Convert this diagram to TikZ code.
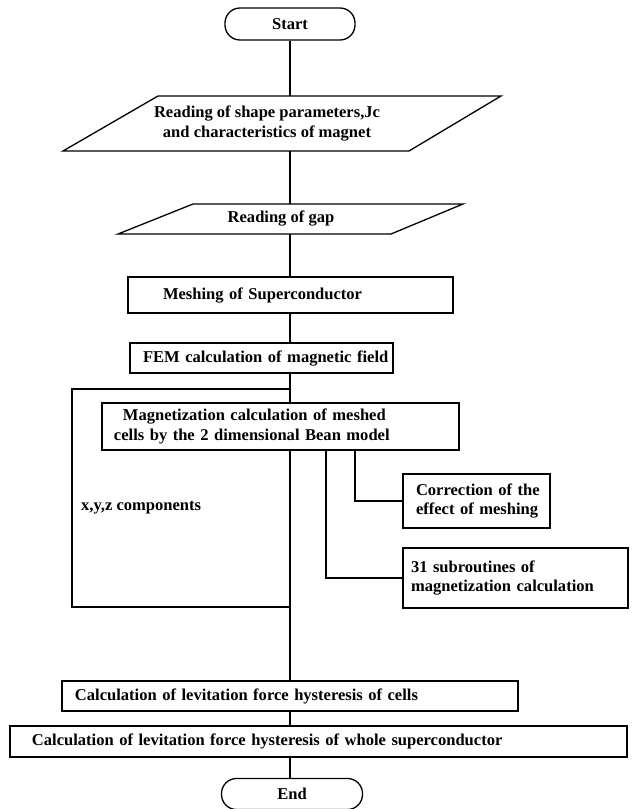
\documentclass[tikz,border=0pt]{standalone}
\usepackage{fontspec}
\setmainfont{Liberation Serif}

\begin{document}
\begin{tikzpicture}[x=1bp,y=-1bp, every node/.style={font=\bfseries\fontsize{16.6}{20}\selectfont},
 box/.style={draw,line width=1.3bp,align=left,inner sep=0pt},
 term/.style={draw,line width=1.3bp,rounded corners=15bp,minimum width=130bp,minimum height=32bp},
 io/.style={align=center,inner sep=0pt},
 line/.style={line width=1.3bp}]
\useasboundingbox (0,0) rectangle (632,809);
\node[term] (start) at (290,24) {Start};
\node[io,minimum height=55bp] (shape) at (267,123.5) {Reading of shape parameters,Jc\\and characteristics of magnet};
\draw[line] (63,151) -- (158,96) -- (501,96) -- (409,151) -- cycle;
\node[io,minimum height=30bp] (gap) at (281,219) {Reading of gap};
\draw[line] (118,234) -- (193,204) -- (463,204) -- (391,234) -- cycle;
\node[box,text width=325bp,minimum height=36bp] (mesh) at (290.5,295) {\hspace*{35bp}Meshing of Superconductor};
\node[box,text width=263bp,minimum height=30bp] (fem) at (261.5,358) {\hspace*{13bp}\mbox{FEM calculation of magnetic field}};
\node[box,text width=357bp,minimum height=47bp] (magn) at (280.5,426.5) {\hspace*{21bp}Magnetization calculation of meshed\\\hspace*{12bp}cells by the 2 dimensional Bean model};
\node[box,text width=147bp,minimum height=54bp] (corr) at (476.5,501) {\hspace*{13bp}Correction of the\\\hspace*{13bp}effect of meshing};
\node[box,text width=225bp,minimum height=60bp] (subr) at (515.5,578) {\hspace*{8bp}31 subroutines of\\\hspace*{8bp}magnetization calculation};
\node[box,text width=456bp,minimum height=30bp] (cells) at (290,696) {\hspace*{13bp}Calculation of levitation force hysteresis of cells};
\node[box,text width=617bp,minimum height=31bp] (whole) at (318.5,741.5) {\hspace*{22bp}Calculation of levitation force hysteresis of whole superconductor};
\node[term,minimum width=141bp,minimum height=31bp] (end) at (292,794) {End};
\node[anchor=west,inner sep=0pt] (xyz) at (81,508) {x,y,z components};
% main axis
\coordinate (axis) at (290,0);
\foreach \a/\b in {start/shape,shape/gap,gap/mesh,mesh/fem,fem/magn,magn/cells,cells/whole,whole/end}
  \draw[line] (axis |- \a.south) -- (axis |- \b.north);
% x,y,z loop
\coordinate (looptop) at (290,389);
\coordinate (loopbot) at (72,607);
\draw[line] (looptop) -| (loopbot) -- (loopbot -| looptop);
% subroutine branches
\coordinate (br1) at (355,0);
\coordinate (br2) at (326,0);
\draw[line] (br1 |- magn.south) |- (corr.west);
\draw[line] (br2 |- magn.south) |- (subr.west);
\end{tikzpicture}
\end{document}
